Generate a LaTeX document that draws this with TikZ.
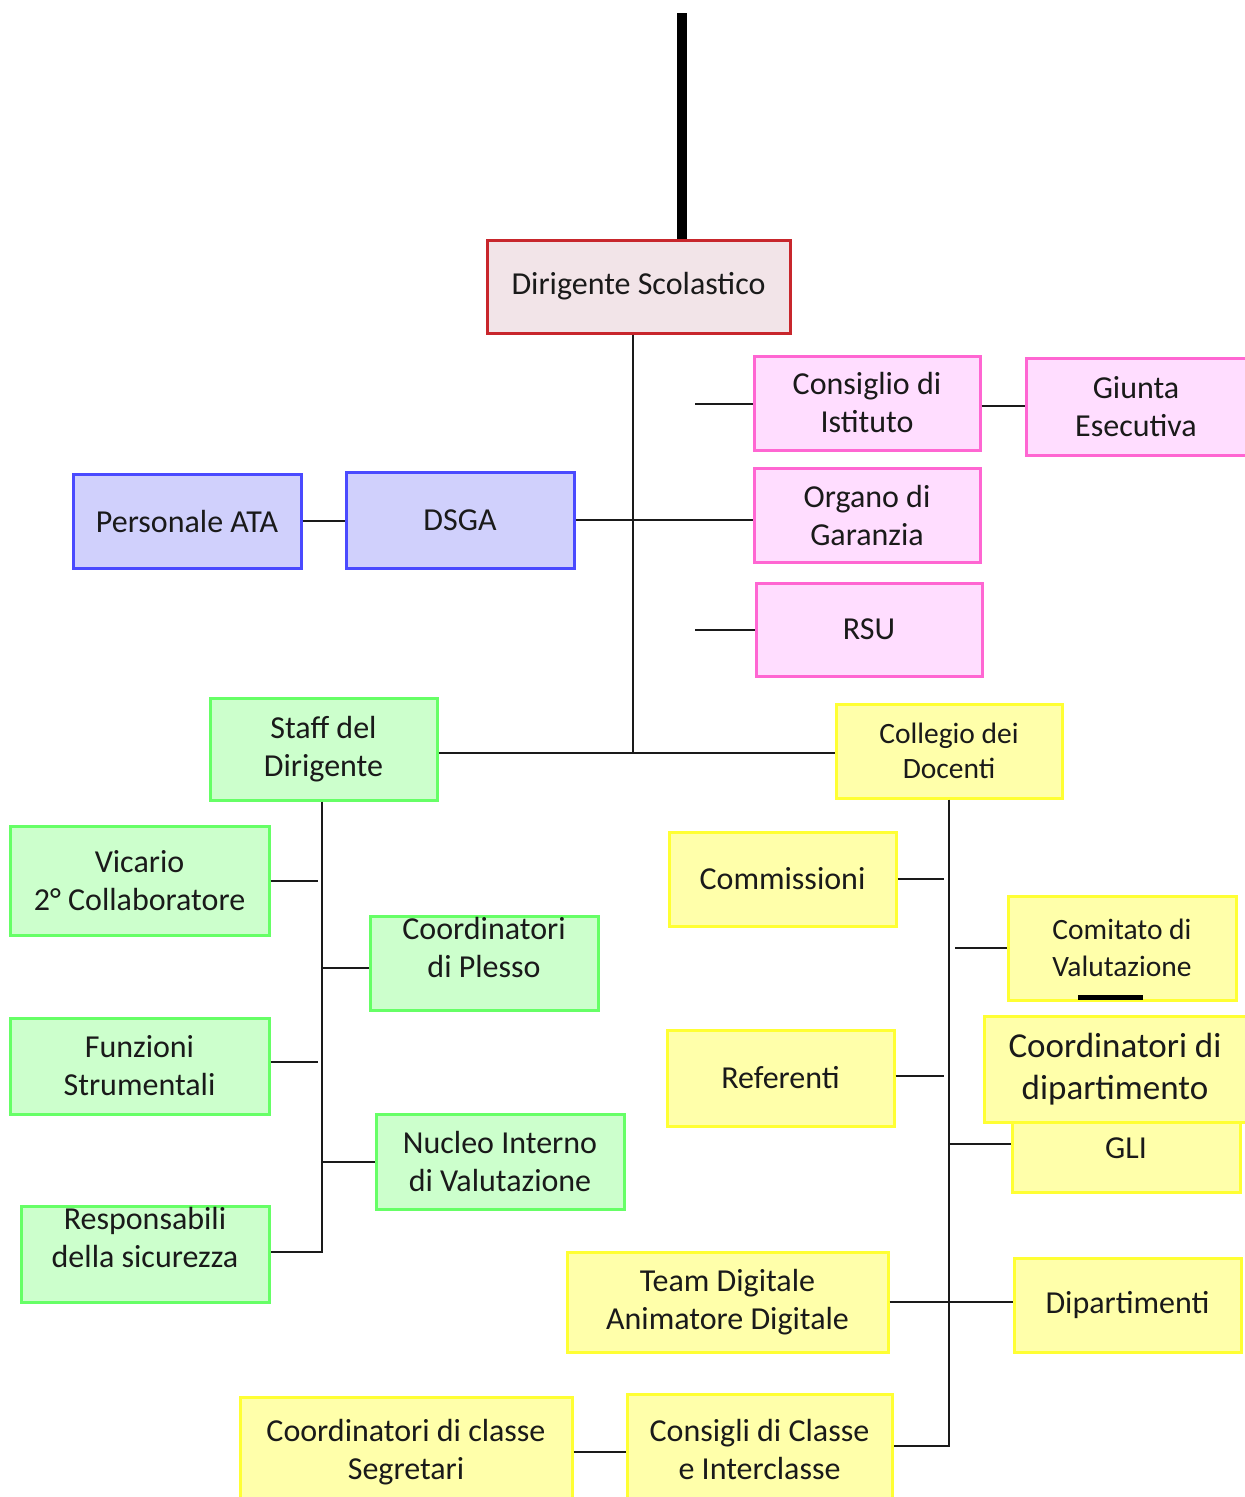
\documentclass[tikz,border=0pt]{standalone}
\usepackage{fontspec}
\setmainfont{Carlito}
\usepackage{tikz}

\definecolor{bordoRosso}{HTML}{C8262C}
\definecolor{fondoRosso}{HTML}{F2E4E8}
\definecolor{bordoRosa}{HTML}{FF66D2}
\definecolor{fondoRosa}{HTML}{FFDDFF}
\definecolor{bordoBlu}{HTML}{4A4AFF}
\definecolor{fondoBlu}{HTML}{D0D0FC}
\definecolor{bordoVerde}{HTML}{66FF66}
\definecolor{fondoVerde}{HTML}{CCFFCC}
\definecolor{bordoGiallo}{HTML}{FFFF33}
\definecolor{fondoGiallo}{HTML}{FFFFAA}
\definecolor{inchiostro}{HTML}{1A1A1A}

\tikzset{
  box/.style={draw, line width=3pt, inner sep=0pt, align=center,
    text=inchiostro, font=\fontsize{32}{38}\selectfont},
  dim/.style 2 args={minimum width=#1pt, minimum height=#2pt},
  rosso/.style={draw=bordoRosso, fill=fondoRosso},
  rosa/.style={draw=bordoRosa, fill=fondoRosa},
  blu/.style={draw=bordoBlu, fill=fondoBlu},
  verde/.style={draw=bordoVerde, fill=fondoVerde},
  giallo/.style={draw=bordoGiallo, fill=fondoGiallo},
  testo/.style={inner sep=0pt, align=center, text=inchiostro,
    font=\fontsize{32}{38}\selectfont},
  filo/.style={draw=inchiostro, line width=2pt},
}

\begin{document}
\begin{tikzpicture}[x=1pt,y=-1pt]
  \useasboundingbox (0,0) rectangle (1245,1497);
  \clip (0,0) rectangle (1245,1497);

  % vertice
  \node[box, rosso, dim={303}{93}] (ds) at (638.5,286.5) {Dirigente Scolastico};
  \node[box, rosa, dim={226}{94}] (ci) at (867,403) {Consiglio di\\Istituto};
  \node[box, rosa, dim={220}{97}] (ge) at (1136,406.5) {Giunta\\Esecutiva};
  \node[box, rosa, dim={226}{94}] (og) at (867,515) {Organo di\\Garanzia};
  \node[box, rosa, dim={226}{93}] (rsu) at (869,629.5) {RSU};
  \node[box, blu, dim={228}{94}] (pa) at (187,521) {Personale ATA};
  \node[box, blu, dim={228}{96}] (dsga) at (460,520) {DSGA};

  % staff
  \node[box, verde, dim={227}{102}] (sd) at (323.5,749) {Staff del\\Dirigente};
  \node[box, verde, dim={259}{109}] (vic) at (139.5,880.5) {Vicario\\2° Collaboratore};
  \node[box, verde, dim={228}{94}] (cp) at (484,963) {};
  \node[testo] (cp-t) at ([yshift=16pt]cp.center) {Coordinatori\\di Plesso};
  \node[box, verde, dim={259}{96}] (fs) at (139.5,1066) {Funzioni\\Strumentali};
  \node[box, verde, dim={248}{95}] (niv) at (500,1161.5) {Nucleo Interno\\di Valutazione};
  \node[box, verde, dim={248}{96}] (rs) at (145,1254) {};
  \node[testo] (rs-t) at ([yshift=17pt]rs.center) {Responsabili\\della sicurezza};

  % collegio
  \node[box, giallo, dim={226}{94}, font=\fontsize{29.5}{35}\selectfont] (cd) at (949,751) {Collegio dei\\Docenti};
  \node[box, giallo, dim={227}{94}] (com) at (782.5,879) {Commissioni};
  \node[box, giallo, dim={228}{104}, font=\fontsize{29.5}{37}\selectfont] (cv) at (1122,948) {Comitato di\\Valutazione};
  \node[box, giallo, dim={227}{96}] (ref) at (780.5,1078) {Referenti};
  \node[box, giallo, dim={228}{92}] (gli) at (1126,1146) {};
  \node[testo] (gli-t) at (1126,1148) {GLI};
  \node[box, giallo, dim={262}{106}, font=\fontsize{35}{42}\selectfont] (cdd) at (1115,1069) {Coordinatori di\\dipartimento};
  \node[box, giallo, dim={321}{100}] (td) at (727.5,1302) {Team Digitale\\Animatore Digitale};
  \node[box, giallo, dim={227}{94}] (dip) at (1127.5,1305) {Dipartimenti};
  \node[box, giallo, dim={265}{110}] (cci) at (759.5,1449) {Consigli di Classe\\e Interclasse};
  \node[box, giallo, dim={332}{110}] (ccs) at (406,1452) {Coordinatori di classe\\Segretari};

  % punti liberi
  \coordinate (cima) at (682,13);
  \coordinate (nodo) at (633,753);
  \coordinate (s1) at (695,404);
  \coordinate (s2) at (695,630);
  \coordinate (sv) at (322,1252);
  \coordinate (sv1) at (318,0);
  \coordinate (cv0) at (949,1446);
  \coordinate (cv1) at (944,0);
  \coordinate (cv2) at (955,948);
  \coordinate (gl) at (949,1144);

  \draw[draw=black, line width=10pt] (cima) -- (cima |- ds.north);
  \draw[filo] (ds.south -| nodo) -- (nodo);
  \draw[filo] (sd.east |- nodo) -- (cd.west |- nodo);
  \draw[filo] (pa.east) -- (pa.east -| dsga.west);
  \draw[filo] (dsga.east) -- (dsga.east -| og.west);
  \draw[filo] (s1) -- (s1 -| ci.west);
  \draw[filo] (ci.east |- 0,406) -- (ge.west |- 0,406);
  \draw[filo] (s2) -- (s2 -| rsu.west);

  \draw[filo] (sd.south -| sv) -- (sv) -- (sv -| rs.east);
  \draw[filo] (vic.east) -- (vic.east -| sv1);
  \draw[filo] (cp.west |- 0,968) -- (sv |- 0,968);
  \draw[filo] (fs.east |- 0,1062) -- (sv1 |- 0,1062);
  \draw[filo] (niv.west) -- (niv.west -| sv);

  \draw[filo] (cd.south) -- (cv0) -- (cv0 -| cci.east);
  \draw[filo] (com.east) -- (com.east -| cv1);
  \draw[filo] (cv2) -- (cv2 -| cv.west);
  \draw[filo] (ref.east |- 0,1076) -- (cv1 |- 0,1076);
  \draw[filo] (gl) -- (gl -| gli.west);
  \draw[filo] (td.east) -- (td.east -| dip.west);
  \draw[filo] (ccs.east) -- (ccs.east -| cci.west);

  \draw[draw=black, line width=5pt] (1078,997) -- (1143,997);
\end{tikzpicture}
\end{document}
